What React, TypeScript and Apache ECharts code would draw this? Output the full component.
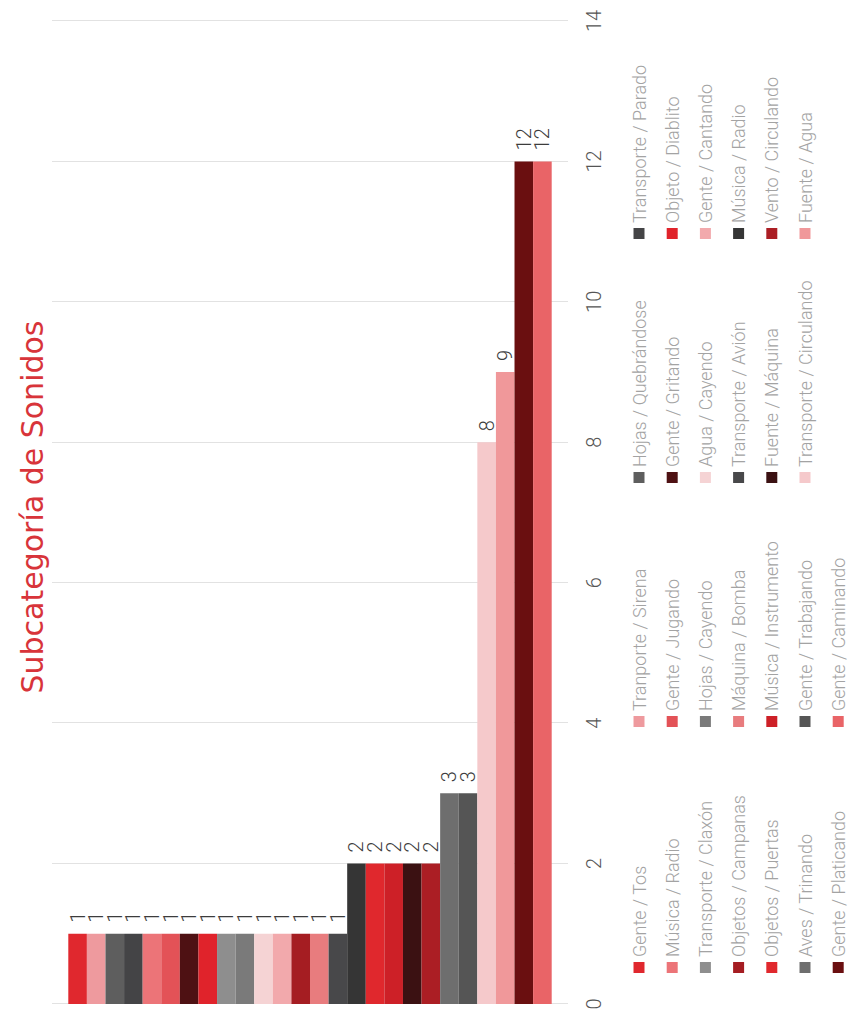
import React, { useEffect, useRef } from "react";
import * as echarts from "echarts";

const TITLE = "Subcategoría de Sonidos";

const categories = [
  "Gente / Tos",
  "Tranporte / Sirena",
  "Hojas / Quebrándose",
  "Transporte / Parado",
  "Música / Radio",
  "Gente / Jugando",
  "Gente / Gritando",
  "Objeto / Diablito",
  "Transporte / Claxón",
  "Hojas / Cayendo",
  "Agua / Cayendo",
  "Gente / Cantando",
  "Objetos / Campanas",
  "Máquina / Bomba",
  "Transporte / Avión",
  "Música / Radio",
  "Objetos / Puertas",
  "Música / Instrumento",
  "Fuente / Máquina",
  "Vento / Circulando",
  "Aves / Trinando",
  "Gente / Trabajando",
  "Transporte / Circulando",
  "Fuente / Agua",
  "Gente / Platicando",
  "Gente / Caminando",
];

const counts = [1, 1, 1, 1, 1, 1, 1, 1, 1, 1, 1, 1, 1, 1, 1, 2, 2, 2, 2, 2, 3, 3, 8, 9, 12, 12];

const colors = [
  "#e0282e",
  "#ee9a9e",
  "#5e5e5e",
  "#444446",
  "#ec7478",
  "#e35257",
  "#4e1113",
  "#e0232b",
  "#8e8e8e",
  "#7a7a7a",
  "#f5d3d4",
  "#f2a9ac",
  "#a51d22",
  "#e87c7e",
  "#48484a",
  "#353535",
  "#e0282d",
  "#cd2027",
  "#3b1112",
  "#ab1e24",
  "#6e6e6e",
  "#555555",
  "#f5c9cb",
  "#f0989a",
  "#6a0f10",
  "#e96467",
];

const valueMin = 0;
const valueMax = 14;
const valueStep = 2;

const W = 1014;
const H = 848;

export default function App() {
  const ref = useRef<HTMLDivElement>(null);

  useEffect(() => {
    document.body.style.margin = "0";
    document.body.style.overflow = "hidden";
    if (!ref.current) return;
    const chart = echarts.init(ref.current, undefined, { renderer: "svg", width: W, height: H });

    // unique keys for duplicated names (legend shows trimmed text)
    const keys = categories.map((c, i) => {
      const dup = categories.slice(0, i).filter((x) => x === c).length;
      return dup ? c + " ".repeat(dup) : c;
    });

    const font = "Roboto";
    const gridLeft = 10;
    const gridRight = 21;

    const series = keys.map((k, i) => ({
      name: k,
      type: "bar",
      stack: "all",
      xAxisIndex: 1,
      yAxisIndex: 1,
      barCategoryGap: "0%",
      itemStyle: { color: colors[i] },
      label: {
        show: true,
        position: "right",
        distance: 11,
        color: "#3c3c3c",
        fontSize: 20,
        fontFamily: font,
        fontWeight: 300,
      },
      data: counts.map((v, j) => (j === i ? v : "-")),
    }));

    const legendLefts = [41, 287, 531, 775];
    const legends = legendLefts.map((left, col) => ({
      orient: "vertical",
      left,
      top: 629,
      height: 260,
      padding: 0,
      itemWidth: 11,
      itemHeight: 11,
      itemGap: 13.2,
      icon: "rect",
      selectedMode: false,
      formatter: (name: string) => name.trim(),
      textStyle: {
        color: "#a3a3a3",
        fontSize: 18,
        fontFamily: font,
        fontWeight: 300,
        lineHeight: 20,
      },
      data: keys.filter((_, i) => i % 4 === col),
    }));

    chart.setOption({
      animation: false,
      backgroundColor: "#ffffff",
      title: {
        text: TITLE,
        left: "center",
        top: 12,
        textStyle: {
          color: "#d8343a",
          fontSize: 30,
          fontFamily: "DejaVu Sans",
          fontWeight: 400,
        },
      },
      legend: legends,
      grid: [
        { left: gridLeft, right: gridRight, top: 52, height: 516 },
        { left: gridLeft, right: gridRight, top: 68.3, height: 483.4 },
      ],
      xAxis: [
        {
          type: "value",
          gridIndex: 0,
          min: valueMin,
          max: valueMax,
          interval: valueStep,
          axisLine: { show: false },
          axisTick: { show: false },
          splitLine: { show: true, lineStyle: { color: "#e2e2e2", width: 1 } },
          axisLabel: {
            margin: 16,
            color: "#555555",
            fontSize: 20,
            fontFamily: font,
            fontWeight: 300,
          },
        },
        {
          type: "value",
          gridIndex: 1,
          min: valueMin,
          max: valueMax,
          interval: valueStep,
          show: false,
        },
      ],
      yAxis: [
        { type: "category", gridIndex: 0, data: keys, inverse: true, show: false },
        { type: "category", gridIndex: 1, data: keys, inverse: true, show: false },
      ],
      series,
    });

    return () => chart.dispose();
  }, []);

  return (
    <div
      ref={ref}
      style={{
        position: "absolute",
        left: 0,
        top: 0,
        width: W,
        height: H,
        transformOrigin: "0 0",
        transform: `translateY(${W}px) rotate(-90deg)`,
      }}
    />
  );
}
